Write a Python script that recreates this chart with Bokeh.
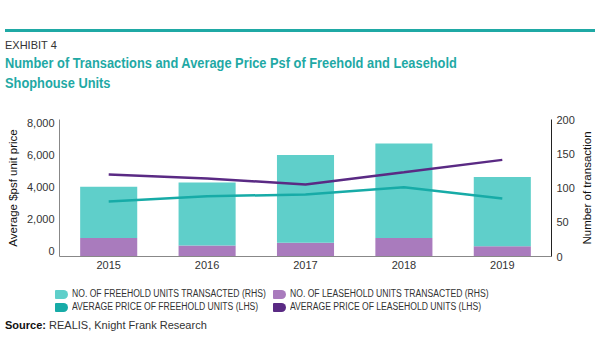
from bokeh.plotting import figure
from bokeh.layouts import column, row
from bokeh.models import (Range1d, LinearAxis, FixedTicker, NumeralTickFormatter, Div,
                          ColumnDataSource, FactorRange)
from bokeh.embed import file_html
from bokeh.resources import INLINE

# ---- data ----
years = ["2015", "2016", "2017", "2018", "2019"]
freehold_units = [75, 92, 128, 138, 101]
leasehold_units = [27, 16, 20, 27, 15]
freehold_price = [3100, 3430, 3530, 3990, 3280]
leasehold_price = [4780, 4530, 4160, 4920, 5690]
left_ticks = [0, 2000, 4000, 6000, 8000]
right_ticks = [0, 50, 100, 150, 200]
legend_labels = ["NO. OF FREEHOLD UNITS TRANSACTED (RHS)",
                 "NO. OF LEASEHOLD UNITS TRANSACTED (RHS)",
                 "AVERAGE PRICE OF FREEHOLD UNITS (LHS)",
                 "AVERAGE PRICE OF LEASEHOLD UNITS (LHS)"]

FONT = "Liberation Sans"
TEAL_BAR = "#5fcfca"
PURPLE_BAR = "#a97bbd"
TEAL_LINE = "#17aba7"
PURPLE_LINE = "#5a2a84"
TITLE_TEAL = "#1fa9a5"
TXT = "#333333"

src = ColumnDataSource(dict(year=years, freehold=freehold_units, leasehold=leasehold_units,
                            fp=freehold_price, lp=leasehold_price))

p = figure(width=580, height=180, x_range=FactorRange(*years, range_padding=0),
           y_range=Range1d(-330, 8206), output_backend="svg", toolbar_location=None,
           min_border_left=59, min_border_right=29, min_border_top=21, min_border_bottom=22,
           margin=0)
p.extra_y_ranges = {"count": Range1d(0, 200)}
p.outline_line_color = None
p.xgrid.visible = False
p.ygrid.visible = False

p.vbar_stack(["leasehold", "freehold"], x="year", width=0.58, source=src,
             color=[PURPLE_BAR, TEAL_BAR], line_color=None, y_range_name="count")
p.line(x="year", y="lp", source=src, line_color=PURPLE_LINE, line_width=2.5)
p.line(x="year", y="fp", source=src, line_color=TEAL_LINE, line_width=2.5)

def style_axis(ax):
    ax.major_tick_line_color = None
    ax.minor_tick_line_color = None
    ax.major_tick_out = 0
    ax.major_tick_in = 0
    ax.major_label_text_font = FONT
    ax.major_label_text_font_size = "11px"
    ax.major_label_text_color = TXT
    ax.axis_label_text_font = FONT
    ax.axis_label_text_font_style = "normal"
    ax.axis_label_text_font_size = "11.5px"
    ax.axis_label_text_color = "#111111"

yl = p.yaxis[0]
style_axis(yl)
yl.ticker = FixedTicker(ticks=left_ticks)
yl.formatter = NumeralTickFormatter(format="0,0")
yl.axis_label = "Average $psf unit price"
yl.axis_line_color = "#888888"
yl.major_label_standoff = 5
yl.axis_label_standoff = 5

yr = LinearAxis(y_range_name="count", ticker=FixedTicker(ticks=right_ticks))
style_axis(yr)
yr.axis_line_color = "#222222"
yr.major_label_standoff = 5
p.add_layout(yr, "right")

xa = p.xaxis[0]
style_axis(xa)
xa.axis_line_color = "#888888"
xa.major_label_standoff = 4

# ---- right axis title (rotated, reads bottom-to-top) ----
right_html = f"""
<div style="position:relative;width:20px;height:180px;font-family:'Liberation Sans',sans-serif;">
  <div style="position:absolute;left:7px;top:89.5px;transform:translate(-50%,-50%) rotate(-90deg);white-space:nowrap;font-size:11.5px;line-height:13px;color:#111111;">Number of transaction</div>
</div>"""
rdiv = Div(text=right_html, width=20, height=180, margin=0)

# ---- header ----
head_html = f"""
<div style="position:relative;width:600px;height:98px;font-family:'Liberation Sans',sans-serif;">
  <div style="position:absolute;left:5px;top:28.5px;width:590px;height:3.5px;background:{TITLE_TEAL};"></div>
  <div style="position:absolute;left:5px;top:38px;font-size:11px;line-height:14px;color:{TXT};white-space:nowrap;">EXHIBIT 4</div>
  <div style="position:absolute;left:5px;top:53px;font-weight:bold;font-size:14.5px;line-height:20px;color:{TITLE_TEAL};white-space:nowrap;transform:scaleX(0.885);transform-origin:0 0;">Number of Transactions and Average Price Psf of Freehold and Leasehold<br>Shophouse Units</div>
</div>"""
head = Div(text=head_html, width=600, height=98, margin=0)

# ---- legend + source (HTML) ----
sw_colors = [TEAL_BAR, PURPLE_BAR, TEAL_LINE, PURPLE_LINE]
pos = [(55, 16), (273, 16), (55, 29), (273, 29)]
items = ""
for (x, yc), c, t in zip(pos, sw_colors, legend_labels):
    items += (f'<div style="position:absolute;left:{x}px;top:{yc - 4.5}px;width:13px;height:9px;'
              f'background:{c};border-radius:1px 5px 5px 1px;"></div>'
              f'<div style="position:absolute;left:{x + 17}px;top:{yc - 6}px;font-size:10px;line-height:12px;'
              f'color:{TXT};white-space:nowrap;transform:scaleX(0.86);transform-origin:0 0;">{t}</div>')
foot_html = f"""
<div style="position:relative;width:600px;height:82px;font-family:'Liberation Sans',sans-serif;">
  {items}
  <div style="position:absolute;left:5px;top:40px;font-size:11px;line-height:14px;color:{TXT};white-space:nowrap;"><b style="color:#111111;">Source:</b> REALIS, Knight Frank Research</div>
</div>"""
foot = Div(text=foot_html, width=600, height=82, margin=0)

layout = column(head, row(p, rdiv, spacing=0), foot, spacing=0)
open("out.html", "w").write(file_html(layout, INLINE))
